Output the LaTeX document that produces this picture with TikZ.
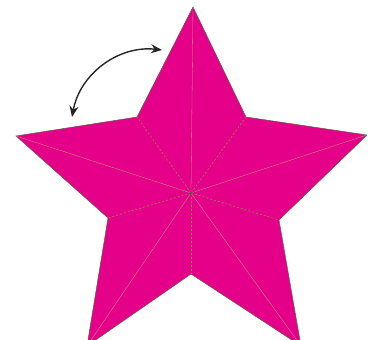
\documentclass[tikz,border=0pt]{standalone}
\usetikzlibrary{arrows.meta}
\definecolor{starpink}{RGB}{229,0,137}
\definecolor{crease}{RGB}{165,125,75}
\definecolor{rim}{RGB}{95,95,70}
\tikzset{
  face/.style={fill=starpink,draw=rim,line width=0.5pt,line join=miter},
  fold/.style={draw=crease!70,line width=0.3pt},
  valley/.style={draw=crease,line width=0.6pt,dash pattern=on 2.2pt off 1.8pt},
  turn/.style={{Stealth[length=11pt,width=9pt]}-{Stealth[length=11pt,width=9pt]},line width=1.4pt,draw=black!85},
  hub/.style={circle,fill=rim,draw=black!70,inner sep=1.2pt}
}

\begin{document}
\begin{tikzpicture}[x=1pt,y=-1pt]
  \useasboundingbox (0,0) rectangle (368,340);
  \clip (0,0) rectangle (368,340);

  % star outline: tips t, inner corners i
  \coordinate (o) at (191,193);
  \coordinate (t0) at (193,7);
  \coordinate (i0) at (246,117);
  \coordinate (t1) at (367,135);
  \coordinate (i1) at (279,220);
  \coordinate (t2) at (301,346);
  \coordinate (i2) at (191,274);
  \coordinate (t3) at (87,346);
  \coordinate (i3) at (108,218);
  \coordinate (t4) at (16,136);
  \coordinate (i4) at (137,117);
  \path[face] (t0)--(i0)--(t1)--(i1)--(t2)--(i2)--(t3)--(i3)--(t4)--(i4)--cycle;

  % creases
  \foreach \k in {0,...,4}{
    \draw[fold] (o)--(t\k);
    \draw[valley] (o)--(i\k);
  }
  \node[hub] (c) at (o) {};

  % turning arrow
  \coordinate (a1) at (72,117);
  \coordinate (a2) at (162,50);
  \draw[turn] (a1) to[bend left=43] (a2);
\end{tikzpicture}
\end{document}
